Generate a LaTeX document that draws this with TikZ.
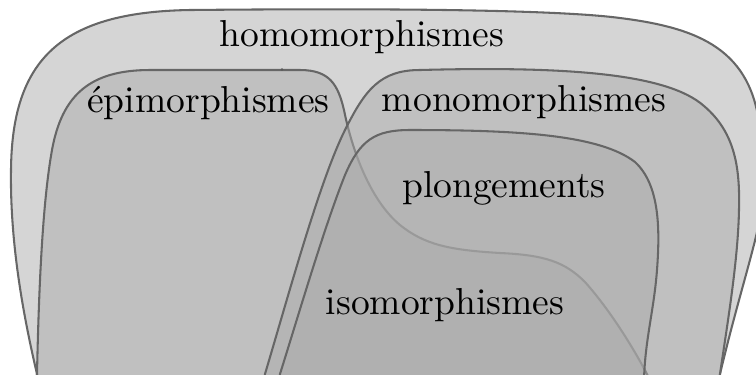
\documentclass[tikz,border=0pt]{standalone}
\begin{document}
\begin{tikzpicture}[x=0.2665pt,y=-0.2665pt,
  region/.style={fill=black!33, fill opacity=0.5, draw=black!60, line width=0.55pt, line join=round},
  lbl/.style={anchor=base, inner sep=0pt, text=black}]
\useasboundingbox (0,0) rectangle (756,374);
\clip (0,0) rectangle (756,374);
% homomorphismes
\path[region] (37,400) -- (37,374) .. controls (22,310) and (10,240) .. (11,170)
  .. controls (12,60) and (60,12) .. (190,10)
  .. controls (400,8) and (560,10) .. (620,18)
  .. controls (700,28) and (752,50) .. (760,130)
  -- (763,200) .. controls (758,240) and (740,290) .. (720,374)
  -- (716,400) -- cycle;
% epimorphismes
\path[region] (37,400) -- (37,374) .. controls (39,280) and (43,200) .. (52,150)
  .. controls (62,95) and (90,70) .. (150,70)
  -- (300,70) .. controls (330,70) and (338,85) .. (344,110)
  .. controls (352,150) and (370,200) .. (400,225)
  .. controls (425,245) and (450,250) .. (500,253)
  .. controls (545,255) and (565,262) .. (585,282)
  .. controls (610,310) and (635,350) .. (650,380)
  -- (652,400) -- cycle;
% monomorphismes
\path[region] (262,400) -- (265,374) .. controls (290,290) and (320,180) .. (345,130)
  .. controls (365,90) and (380,70) .. (420,70)
  .. controls (570,66) and (668,74) .. (704,106)
  .. controls (736,133) and (740,170) .. (739,210)
  .. controls (738,260) and (728,320) .. (720,374)
  -- (716,400) -- cycle;
% plongements
\path[region] (275,400) -- (280,374) .. controls (300,310) and (325,225) .. (345,175)
  .. controls (360,140) and (375,130) .. (410,130)
  .. controls (520,130) and (600,135) .. (635,162)
  .. controls (660,185) and (660,230) .. (657,270)
  .. controls (654,310) and (645,340) .. (644,380)
  -- (644,400) -- cycle;
\fill[black!65] (282,69.5) circle (1.3);
\node[lbl] (homo) at (362,46.5) {homomorphismes};
\node[lbl] (epi) at (208.5,112) {épimorphismes};
\node[lbl] (mono) at (524,111.5) {monomorphismes};
\node[lbl] (plong) at (504,197) {plongements};
\node[lbl] (iso) at (445,314) {isomorphismes};
\end{tikzpicture}
\end{document}
